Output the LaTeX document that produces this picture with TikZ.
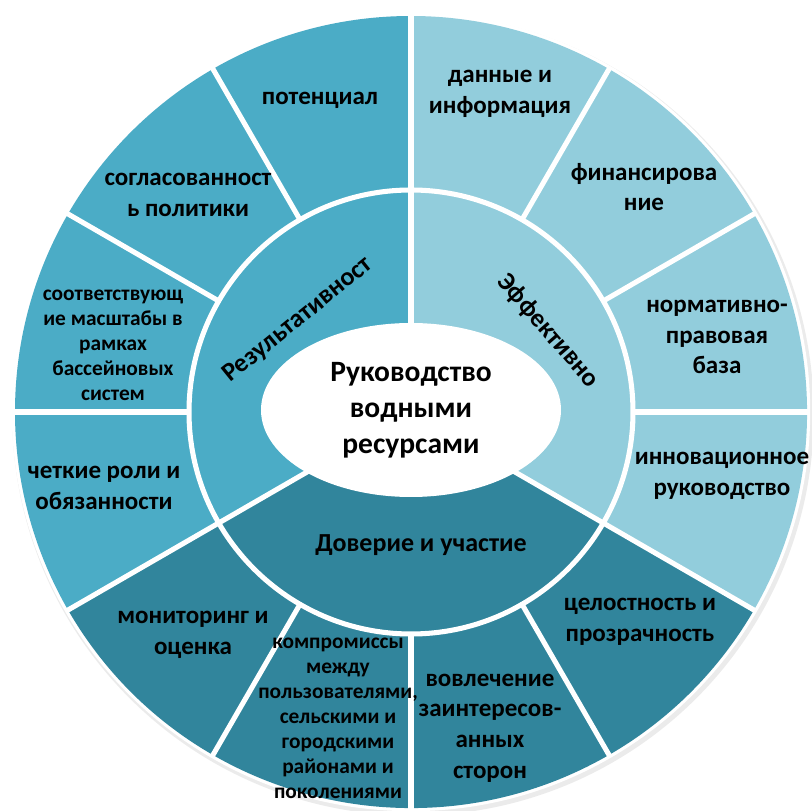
\documentclass[tikz,border=0pt]{standalone}
\usepackage{fontspec}
\setmainfont{Carlito}
\usepackage{tikz}
\usetikzlibrary{shapes.geometric,positioning,calc}

\definecolor{resblue}{HTML}{4BACC6}
\definecolor{efflight}{HTML}{92CDDC}
\definecolor{trustdark}{HTML}{31859C}

\tikzset{
  gap/.style={white, line width=3.6pt},
  seglabel/.style={align=center, inner sep=0pt, font=\bfseries\fontsize{17.8}{21.8}\selectfont},
  smalllabel/.style={seglabel, font=\bfseries\fontsize{15.2}{17.8}\selectfont},
  ringlabel/.style={inner sep=0pt, font=\bfseries\fontsize{18.5}{22}\selectfont},
  hub/.style={ellipse, fill=white, minimum width=7.5cm, minimum height=4.35cm, inner sep=0pt,
    align=center, font=\bfseries\fontsize{21}{25.5}\selectfont}
}

\begin{document}
\begin{tikzpicture}
    \useasboundingbox (-10.275,-9.975) rectangle (10.025,10.3);

    % Shadow and white rim
    \fill[black!8] (0.05,-0.07) circle (10.02);
    \fill[white] (0,0) circle (9.98);

    % Three groups
    \fill[resblue] (0,0) -- (90:9.9) arc (90:210:9.9) -- cycle;
    \fill[trustdark] (0,0) -- (210:9.9) arc (210:330:9.9) -- cycle;
    \fill[efflight] (0,0) -- (-30:9.9) arc (-30:90:9.9) -- cycle;

    % Gaps between segments
    \foreach \a in {0,30,...,330} {
        \draw[gap] (\a:5.5) -- (\a:9.95);
    }
    \draw[gap] (0,0) circle (5.55);
    \foreach \a in {90,210,330} {
        \draw[gap] (0,0) -- (\a:5.55);
    }

    % Centre
    \node[hub] (hub) at (0,0.05) {Руководство\\водными\\ресурсами};

    % Inner ring
    \node[ringlabel, rotate=39] (res) at (-2.825,2.3) {Результативност};
    \node[ringlabel, rotate=-49] (eff) at (3.425,2.025) {Эффективно};
    \node[ringlabel] (trust) at (0.25,-3.325) {Доверие и участие};

    % Outer ring
    \node[seglabel] (pot) at (-2.275,7.8) {потенциал};
    \node[seglabel] (pol) at (-5.575,5.425) {согласованност\\ь политики};
    \node[smalllabel] (bas) at (-7.45,1.675) {соответствующ\\ие масштабы в\\рамках\\бассейновых\\систем};
    \node[seglabel] (rol) at (-7.675,-1.9) {четкие роли и\\обязанности};
    \node[seglabel] (mon) at (-5.45,-5.575) {мониторинг и\\оценка};
    \node[smalllabel] (kom) at (-1.825,-7.65) {компромиссы\\между\\пользователями,\\сельскими и\\городскими\\районами и\\поколениями};
    \node[seglabel] (vov) at (1.975,-7.9) {вовлечение\\заинтересов-\\анных\\сторон};
    \node[seglabel] (cel) at (5.725,-5.25) {целостность и\\прозрачность};
    \node[seglabel] (inn) at (7.775,-1.6) {инновационное\\руководство};
    \node[seglabel] (nor) at (7.65,1.875) {нормативно-\\правовая\\база};
    \node[seglabel] (fin) at (5.825,5.625) {финансирова\\ние};
    \node[seglabel] (dan) at (2.225,7.95) {данные и\\информация};
\end{tikzpicture}
\end{document}
